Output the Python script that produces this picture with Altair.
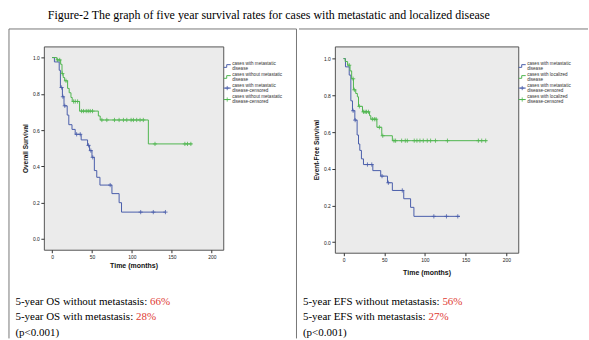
import altair as alt
import pandas as pd

# ---------------- data ----------------
# Overall survival - cases with metastatic disease
os_met_time = [0, 3, 9, 10.5, 13, 15, 19, 21, 25, 29, 36.5, 44.5, 47, 50, 53, 56, 60, 75, 84, 87, 142]
os_met_surv = [1.0, 0.976, 0.93, 0.835, 0.784, 0.734, 0.683, 0.63, 0.604, 0.577, 0.546, 0.516,
               0.487, 0.45, 0.377, 0.34, 0.297, 0.25, 0.2, 0.148, 0.148]
os_met_cens = [12, 13.7, 16, 30.8, 35.3, 45.7, 48.6, 51, 72.8, 111, 126.8, 142]

# Overall survival - cases without metastatic disease
os_loc_time = [0, 6, 10.8, 12.5, 14, 15.8, 19.5, 21.5, 23.7, 25.3, 34.5, 58, 60.3, 120.6, 175]
os_loc_surv = [1.0, 0.987, 0.963, 0.912, 0.89, 0.872, 0.83, 0.806, 0.78, 0.758, 0.705, 0.678,
               0.656, 0.524, 0.524]
os_loc_cens = [7, 9.6, 12.9, 17.5, 27, 29.1, 32, 37, 39.5, 42.8, 45.3, 47.8, 50.7, 62.4, 68.6,
               78.2, 84, 89.4, 93.6, 99, 101.9, 106, 110.2, 114.3, 128.9, 166.3, 169.6, 173.8]

# Event-free survival - metastatic
efs_met_time = [0, 2.4, 7, 9, 11, 13.9, 16.7, 18.4, 20, 22, 24.5, 36, 45.7, 54, 60, 74, 82.4, 86.5, 143]
efs_met_surv = [1.0, 0.955, 0.91, 0.77, 0.716, 0.665, 0.584, 0.535, 0.5, 0.454, 0.423, 0.39,
                0.36, 0.324, 0.282, 0.237, 0.19, 0.141, 0.141]
efs_met_cens = [11.8, 14.3, 29.4, 34.7, 47.3, 55.1, 72.2, 111, 126.5, 140.4]

# Event-free survival - localized
efs_loc_time = [0, 2, 5, 8, 10, 12.2, 15, 17, 18.4, 23.3, 32, 33.5, 41, 47, 60, 176]
efs_loc_surv = [1.0, 0.984, 0.964, 0.933, 0.89, 0.83, 0.81, 0.792, 0.74, 0.71, 0.689, 0.67,
                0.626, 0.58, 0.553, 0.553]
efs_loc_cens = [7, 11.8, 13.3, 19.5, 24.5, 26.5, 28.2, 30.6, 35.5, 37.9, 40, 44.1, 48.2, 62, 64,
                71.4, 75.9, 78.4, 86.9, 90.2, 93.9, 98, 102.9, 107, 113, 127.7, 165.7, 169.8, 174.7]

x_ticks = [0, 50, 100, 150, 200]
y_ticks = [0.0, 0.2, 0.4, 0.6, 0.8, 1.0]

title_text = "Figure-2 The graph of five year survival rates for cases with metastatic and localized disease"
left_legend = [["cases with metastatic", "disease"], ["cases without metastatic", "disease"],
               ["cases with metastatic", "disease-censored"], ["cases without metastatic", "disease-censored"]]
right_legend = [["cases with metastatic", "disease"], ["cases with localized", "disease"],
                ["cases with metastatic", "disease-censored"], ["cases with localized", "disease-censored"]]
left_notes = [("5-year OS without metastasis: ", "66%"), ("5-year OS with metastasis: ", "28%"), ("(p<0.001)", "")]
right_notes = [("5-year EFS without metastasis: ", "56%"), ("5-year EFS with metastasis: ", "27%"), ("(p<0.001)", "")]

BLUE = "#4a5eab"
GREEN = "#4fb64f"
RED = "#e03a32"
SANS = "Liberation Sans"
SERIF = "Liberation Serif"
PLUS = "M-1,0L1,0M0,-1L0,1"

one = pd.DataFrame({"d": [0]})


def surv_at(times, survs, c):
    v = survs[0]
    for t, s in zip(times, survs):
        if t <= c:
            v = s
    return v


def km(times, survs, cens, color, x, y):
    df = pd.DataFrame({"t": times, "s": survs})
    line = alt.Chart(df).mark_line(interpolate="step-after", color=color, strokeWidth=1).encode(x=x, y=y)
    cdf = pd.DataFrame({"t": cens, "s": [surv_at(times, survs, c) for c in cens]})
    pts = alt.Chart(cdf).mark_point(shape=PLUS, size=18, color=color, strokeWidth=0.8,
                                    filled=False, opacity=1).encode(x=x, y=y)
    return [line, pts]


def hrule(x1, x2, yv, color="#666", sw=1):
    return alt.Chart(one).mark_rule(color=color, strokeWidth=sw).encode(
        x=alt.value(x1), x2=alt.value(x2), y=alt.value(yv))


def vrule(xv, y1, y2, color="#666", sw=1):
    return alt.Chart(one).mark_rule(color=color, strokeWidth=sw).encode(
        x=alt.value(xv), y=alt.value(y1), y2=alt.value(y2))


def txt(s, xv, yv, size, font, color="#000", weight="normal"):
    return alt.Chart(one).mark_text(align="left", baseline="middle", font=font, fontSize=size,
                                    color=color, fontWeight=weight).encode(
        x=alt.value(xv), y=alt.value(yv), text=alt.value(s))


def panel(curves, xdom, ydom, w, h, ytitle, xtitle_pad, legend, notes, note_x, red_x):
    x = alt.X("t:Q", scale=alt.Scale(domain=xdom, nice=False, zero=False),
              axis=alt.Axis(values=x_ticks, title="Time (months)", domain=False, grid=False,
                            tickSize=3, tickColor="#333", labelFontSize=5, labelFont=SANS,
                            labelColor="#222", labelPadding=1.5, labelOverlap=False, labelFlush=False,
                            titleFont=SANS, titleFontSize=7, titleFontWeight="bold",
                            titleColor="#111", titlePadding=xtitle_pad))
    y = alt.Y("s:Q", scale=alt.Scale(domain=ydom, nice=False, zero=False),
              axis=alt.Axis(values=y_ticks, format=".1f", title=ytitle, domain=False, grid=False,
                            tickSize=3, tickColor="#333", labelFontSize=5, labelFont=SANS,
                            labelColor="#222", labelPadding=1.5, labelOverlap=False, labelFlush=False,
                            titleFont=SANS, titleFontSize=6.5, titleFontWeight="bold",
                            titleColor="#111", titlePadding=4))
    layers = []
    for times, survs, cens, color in curves:
        layers += km(times, survs, cens, color, x, y)
    # legend
    rows = [17.3, 28.3, 39.3, 50.8]
    colors = [BLUE, GREEN, BLUE, GREEN]
    for i, (l1, l2) in enumerate(legend):
        yc = rows[i] + 2.5
        c = colors[i]
        if i < 2:
            layers.append(hrule(w + 0.5, w + 3.5, yc + 1.2, c))
            layers.append(vrule(w + 3.5, yc + 1.2, yc - 1.5, c))
            layers.append(hrule(w + 3.5, w + 7.5, yc - 1.5, c))
        else:
            layers.append(hrule(w + 0.5, w + 7.5, yc, c))
            layers.append(alt.Chart(one).mark_point(shape=PLUS, size=18, color=c, strokeWidth=0.8,
                                                    filled=False, opacity=1).encode(
                x=alt.value(w + 4), y=alt.value(yc)))
        layers.append(txt(l1, w + 9, rows[i], 4.6, SANS, "#333"))
        layers.append(txt(l2, w + 9, rows[i] + 5.0, 4.6, SANS, "#333"))
    # notes under the plot
    ys = [256, 272, 287.5]
    for i, (a, b) in enumerate(notes):
        layers.append(txt(a, note_x, ys[i], 11, SERIF, "#000"))
        if b:
            layers.append(txt(b, red_x[i], ys[i], 11, SERIF, RED))
    return alt.layer(*layers).properties(width=w, height=h)


left = panel([(os_met_time, os_met_surv, os_met_cens, BLUE),
              (os_loc_time, os_loc_surv, os_loc_cens, GREEN)],
             [-10.23, 214.35], [-0.0594, 1.0615], 180, 204, "Overall Survival", 2.5,
             left_legend, left_notes, -28.5, [106.5, 92.5])
left = alt.layer(
    left,
    hrule(-35, 253.5, -17.5, "#777"),
    vrule(-35, -17.5, 293, "#777"),
    vrule(253.5, -17.5, 293, "#777"),
)

right = panel([(efs_met_time, efs_met_surv, efs_met_cens, BLUE),
               (efs_loc_time, efs_loc_surv, efs_loc_cens, GREEN)],
              [-10.65, 214.7], [-0.057, 1.0662], 184, 207, "Event-Free Survival", 6,
              right_legend, right_notes, -32, [107.9, 93.9])
right = alt.layer(
    right,
    hrule(-36, 254, -17.5, "#777"),
)

chart = alt.hconcat(left, right, spacing=0).properties(
    padding={"left": 8, "top": 8, "right": 0, "bottom": 0},
    background="white",
    title=alt.TitleParams(title_text, anchor="start", frame="bounds", orient="top",
                          font=SERIF, fontSize=12, fontWeight="normal", color="#000",
                          baseline="bottom", offset=-5.5, dx=40),
).configure_view(fill="#ebebeb", stroke="#555", strokeWidth=1)

chart.save("out.html", embed_options={"renderer": "svg", "actions": False})
